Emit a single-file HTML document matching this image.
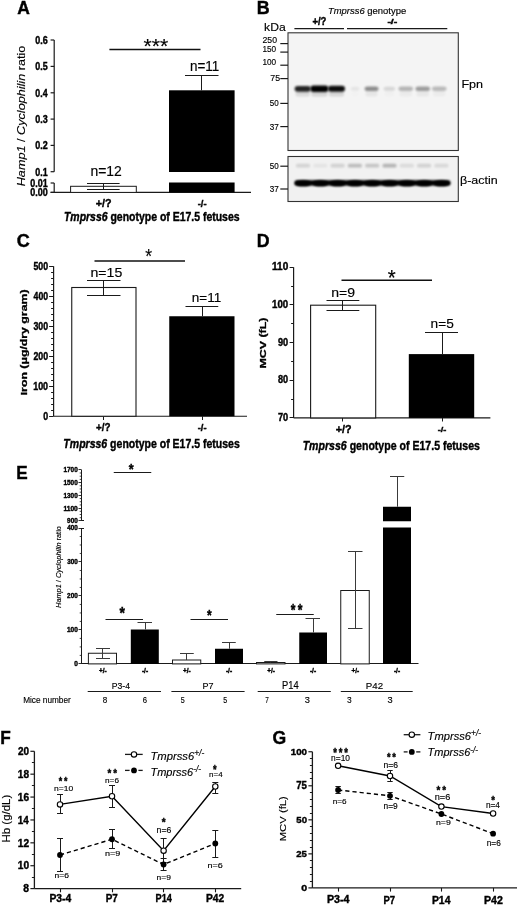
<!DOCTYPE html>
<html><head><meta charset="utf-8"><title>Figure</title>
<style>html,body{margin:0;padding:0;background:#fff;}svg{display:block;}text{font-family:"Liberation Sans",Arial,sans-serif;stroke:#000;}.b{stroke-width:0.4px;}.r{stroke-width:0.15px;}</style></head>
<body><svg width="520" height="905" viewBox="0 0 520 905">
<rect width="520" height="905" fill="#fff"/>
<text class="b" transform="translate(17.16,13.60) scale(0.9717,1.0000)" font-size="17.97" fill="#000" ><tspan font-weight="bold" font-style="normal">A</tspan></text>
<text class="r" transform="translate(25.26,186.28) rotate(-90) scale(1.0000,0.8788)" font-size="12.66" fill="#000" ><tspan font-weight="normal" font-style="italic">Hamp1</tspan><tspan font-weight="normal" font-style="normal"> / </tspan><tspan font-weight="normal" font-style="italic">Cyclophilin</tspan><tspan font-weight="normal" font-style="normal"> ratio</tspan></text>
<line x1="54.20" y1="40.00" x2="54.20" y2="171.70" stroke="#1a1a1a" stroke-width="1.2" />
<line x1="54.20" y1="183.00" x2="54.20" y2="192.40" stroke="#1a1a1a" stroke-width="1.2" />
<line x1="50.60" y1="40.00" x2="54.20" y2="40.00" stroke="#1a1a1a" stroke-width="1.2" />
<text class="b" transform="translate(35.34,43.80) scale(0.8610,1.0000)" font-size="10.42" fill="#000" ><tspan font-weight="bold" font-style="normal">0.6</tspan></text>
<line x1="50.60" y1="66.40" x2="54.20" y2="66.40" stroke="#1a1a1a" stroke-width="1.2" />
<text class="b" transform="translate(35.34,70.20) scale(0.8545,1.0000)" font-size="10.42" fill="#000" ><tspan font-weight="bold" font-style="normal">0.5</tspan></text>
<line x1="50.60" y1="92.80" x2="54.20" y2="92.80" stroke="#1a1a1a" stroke-width="1.2" />
<text class="b" transform="translate(35.35,96.60) scale(0.8418,1.0000)" font-size="10.42" fill="#000" ><tspan font-weight="bold" font-style="normal">0.4</tspan></text>
<line x1="50.60" y1="119.10" x2="54.20" y2="119.10" stroke="#1a1a1a" stroke-width="1.2" />
<text class="b" transform="translate(35.34,122.90) scale(0.8610,1.0000)" font-size="10.42" fill="#000" ><tspan font-weight="bold" font-style="normal">0.3</tspan></text>
<line x1="50.60" y1="145.40" x2="54.20" y2="145.40" stroke="#1a1a1a" stroke-width="1.2" />
<text class="b" transform="translate(35.34,149.20) scale(0.8642,1.0000)" font-size="10.42" fill="#000" ><tspan font-weight="bold" font-style="normal">0.2</tspan></text>
<line x1="50.60" y1="171.70" x2="54.20" y2="171.70" stroke="#1a1a1a" stroke-width="1.2" />
<text class="b" transform="translate(35.34,175.50) scale(0.8545,1.0000)" font-size="10.42" fill="#000" ><tspan font-weight="bold" font-style="normal">0.1</tspan></text>
<line x1="50.60" y1="183.00" x2="54.20" y2="183.00" stroke="#1a1a1a" stroke-width="1.2" />
<text class="b" transform="translate(30.34,186.80) scale(0.8574,1.0000)" font-size="10.42" fill="#000" ><tspan font-weight="bold" font-style="normal">0.01</tspan></text>
<line x1="50.60" y1="192.40" x2="54.20" y2="192.40" stroke="#1a1a1a" stroke-width="1.2" />
<text class="b" transform="translate(30.34,196.20) scale(0.8643,1.0000)" font-size="10.42" fill="#000" ><tspan font-weight="bold" font-style="normal">0.00</tspan></text>
<line x1="50.60" y1="192.40" x2="251.00" y2="192.40" stroke="#1a1a1a" stroke-width="1.2" />
<rect x="70.60" y="186.30" width="65.70" height="6.10" fill="#fff" stroke="#1a1a1a" stroke-width="1.0" />
<line x1="103.50" y1="183.70" x2="103.50" y2="189.40" stroke="#1a1a1a" stroke-width="1.0" />
<line x1="87.00" y1="183.50" x2="119.60" y2="183.50" stroke="#1a1a1a" stroke-width="1.0" />
<line x1="87.00" y1="189.50" x2="119.60" y2="189.50" stroke="#1a1a1a" stroke-width="1.0" />
<rect x="169.00" y="90.30" width="65.60" height="81.70" fill="#000" stroke="none" stroke-width="1.0" />
<rect x="169.00" y="182.50" width="65.60" height="9.90" fill="#000" stroke="none" stroke-width="1.0" />
<line x1="201.50" y1="75.40" x2="201.50" y2="90.30" stroke="#1a1a1a" stroke-width="1.0" />
<line x1="185.00" y1="75.50" x2="218.50" y2="75.50" stroke="#1a1a1a" stroke-width="1.0" />
<line x1="109.40" y1="49.40" x2="200.50" y2="49.40" stroke="#111" stroke-width="1.5" />
<text class="r" transform="translate(143.58,53.09) scale(1.0277,1.0000)" font-size="20.57" fill="#000" ><tspan font-weight="normal" font-style="normal">***</tspan></text>
<text class="r" transform="translate(90.39,175.80) scale(0.9970,1.0000)" font-size="14.00" fill="#000" ><tspan font-weight="normal" font-style="normal">n=12</tspan></text>
<text class="r" transform="translate(190.02,70.90) scale(0.9576,1.0000)" font-size="14.06" fill="#000" ><tspan font-weight="normal" font-style="normal">n=11</tspan></text>
<text class="b" transform="translate(95.67,207.08) scale(0.9779,1.0000)" font-size="11.01" fill="#000" ><tspan font-weight="bold" font-style="normal">+/?</tspan></text>
<text class="b" transform="translate(197.73,207.12) scale(1.0570,1.0000)" font-size="8.86" fill="#000" ><tspan font-weight="bold" font-style="normal">-/-</tspan></text>
<text class="b" transform="translate(63.97,220.92) scale(0.8518,1.0000)" font-size="12.30" fill="#000" ><tspan font-weight="bold" font-style="italic">Tmprss6</tspan><tspan font-weight="bold" font-style="normal"> genotype of E17.5 fetuses</tspan></text>
<text class="b" transform="translate(256.64,13.60) scale(0.9785,1.0000)" font-size="18.26" fill="#000" ><tspan font-weight="bold" font-style="normal">B</tspan></text>
<text class="r" transform="translate(327.95,14.09) scale(0.9901,1.0000)" font-size="9.56" fill="#000" ><tspan font-weight="normal" font-style="italic">Tmprss6</tspan><tspan font-weight="normal" font-style="normal"> genotype</tspan></text>
<text class="b" transform="translate(312.42,25.10) scale(0.9339,1.0000)" font-size="10.20" fill="#000" ><tspan font-weight="bold" font-style="normal">+/?</tspan></text>
<text class="b" transform="translate(387.38,23.96) scale(1.4907,1.0000)" font-size="6.98" fill="#000" ><tspan font-weight="bold" font-style="normal">-/-</tspan></text>
<line x1="294.40" y1="28.60" x2="344.00" y2="28.60" stroke="#1a1a1a" stroke-width="1.4" />
<line x1="347.00" y1="28.60" x2="447.30" y2="28.60" stroke="#1a1a1a" stroke-width="1.4" />
<text class="r" transform="translate(264.11,31.18) scale(1.0276,1.0000)" font-size="11.84" fill="#000" ><tspan font-weight="normal" font-style="normal">kDa</tspan></text>
<defs><filter id="bl" x="-20%" y="-100%" width="140%" height="300%"><feGaussianBlur stdDeviation="1.1"/></filter><filter id="bl2" x="-20%" y="-100%" width="140%" height="300%"><feGaussianBlur stdDeviation="0.8"/></filter></defs>
<rect x="288.00" y="32.80" width="170.30" height="117.70" fill="#f4f4f4" stroke="#333" stroke-width="1.1" />
<rect x="288.00" y="156.50" width="170.30" height="45.00" fill="#f1f1f1" stroke="#333" stroke-width="1.1" />
<line x1="280.30" y1="43.60" x2="288.00" y2="43.60" stroke="#1a1a1a" stroke-width="1.2" />
<text class="r" transform="translate(262.46,42.91) scale(1.0166,1.0000)" font-size="8.59" fill="#000" ><tspan font-weight="normal" font-style="normal">250</tspan></text>
<line x1="280.30" y1="52.10" x2="288.00" y2="52.10" stroke="#1a1a1a" stroke-width="1.2" />
<text class="r" transform="translate(262.48,51.81) scale(0.8855,1.0000)" font-size="9.30" fill="#000" ><tspan font-weight="normal" font-style="normal">150</tspan></text>
<line x1="280.30" y1="65.20" x2="288.00" y2="65.20" stroke="#1a1a1a" stroke-width="1.2" />
<text class="r" transform="translate(262.48,65.31) scale(0.9426,1.0000)" font-size="8.73" fill="#000" ><tspan font-weight="normal" font-style="normal">100</tspan></text>
<line x1="280.30" y1="78.60" x2="288.00" y2="78.60" stroke="#1a1a1a" stroke-width="1.2" />
<text class="r" transform="translate(270.36,81.01) scale(0.9502,1.0000)" font-size="9.29" fill="#000" ><tspan font-weight="normal" font-style="normal">75</tspan></text>
<line x1="280.30" y1="103.40" x2="288.00" y2="103.40" stroke="#1a1a1a" stroke-width="1.2" />
<text class="r" transform="translate(269.78,106.41) scale(0.8896,1.0000)" font-size="9.01" fill="#000" ><tspan font-weight="normal" font-style="normal">50</tspan></text>
<line x1="280.30" y1="126.60" x2="288.00" y2="126.60" stroke="#1a1a1a" stroke-width="1.2" />
<text class="r" transform="translate(269.77,129.61) scale(0.9027,1.0000)" font-size="9.01" fill="#000" ><tspan font-weight="normal" font-style="normal">37</tspan></text>
<line x1="280.30" y1="166.20" x2="288.00" y2="166.20" stroke="#1a1a1a" stroke-width="1.2" />
<text class="r" transform="translate(269.78,169.31) scale(0.8896,1.0000)" font-size="9.01" fill="#000" ><tspan font-weight="normal" font-style="normal">50</tspan></text>
<line x1="280.30" y1="189.00" x2="288.00" y2="189.00" stroke="#1a1a1a" stroke-width="1.2" />
<text class="r" transform="translate(269.77,192.11) scale(0.9027,1.0000)" font-size="9.01" fill="#000" ><tspan font-weight="normal" font-style="normal">37</tspan></text>
<text class="r" transform="translate(461.39,88.27) scale(1.1314,1.0000)" font-size="11.11" fill="#000" ><tspan font-weight="normal" font-style="normal">Fpn</tspan></text>
<text class="r" transform="translate(460.03,183.52) scale(1.1007,1.0000)" font-size="11.34" fill="#000" ><tspan font-weight="normal" font-style="normal">β-actin</tspan></text>
<rect x="294.6" y="85.9" width="16.2" height="5.8" rx="3" fill="#000" opacity="0.85" filter="url(#bl2)"/>
<rect x="295.6" y="91" width="14.2" height="5.5" rx="2" fill="#000" opacity="0.111" filter="url(#bl)"/>
<rect x="310.4" y="85.5" width="18.0" height="6.6" rx="3" fill="#000" opacity="1.0" filter="url(#bl2)"/>
<rect x="311.4" y="91" width="16.0" height="5.5" rx="2" fill="#000" opacity="0.130" filter="url(#bl)"/>
<rect x="328.0" y="85.8" width="17.0" height="6.0" rx="3" fill="#000" opacity="0.95" filter="url(#bl2)"/>
<rect x="329.0" y="91" width="15.0" height="5.5" rx="2" fill="#000" opacity="0.123" filter="url(#bl)"/>
<rect x="350.8" y="86.8" width="8.6" height="4.0" rx="3" fill="#000" opacity="0.06" filter="url(#bl2)"/>
<rect x="351.8" y="91" width="6.6" height="5.5" rx="2" fill="#000" opacity="0.008" filter="url(#bl)"/>
<rect x="364.6" y="86.5" width="13.9" height="4.6" rx="3" fill="#000" opacity="0.42" filter="url(#bl2)"/>
<rect x="365.6" y="91" width="11.9" height="5.5" rx="2" fill="#000" opacity="0.055" filter="url(#bl)"/>
<rect x="383.6" y="86.8" width="11.4" height="4.0" rx="3" fill="#000" opacity="0.12" filter="url(#bl2)"/>
<rect x="384.6" y="91" width="9.4" height="5.5" rx="2" fill="#000" opacity="0.016" filter="url(#bl)"/>
<rect x="398.5" y="86.6" width="14.5" height="4.4" rx="3" fill="#000" opacity="0.26" filter="url(#bl2)"/>
<rect x="399.5" y="91" width="12.5" height="5.5" rx="2" fill="#000" opacity="0.034" filter="url(#bl)"/>
<rect x="415.5" y="86.5" width="14.5" height="4.6" rx="3" fill="#000" opacity="0.36" filter="url(#bl2)"/>
<rect x="416.5" y="91" width="12.5" height="5.5" rx="2" fill="#000" opacity="0.047" filter="url(#bl)"/>
<rect x="432.0" y="86.6" width="14.5" height="4.4" rx="3" fill="#000" opacity="0.24" filter="url(#bl2)"/>
<rect x="433.0" y="91" width="12.5" height="5.5" rx="2" fill="#000" opacity="0.031" filter="url(#bl)"/>
<rect x="294.5" y="180.2" width="156" height="5.4" rx="2.5" fill="#030303" filter="url(#bl2)"/>
<ellipse cx="303.1" cy="183.4" rx="8.2" ry="2.9" fill="#000" filter="url(#bl2)"/>
<ellipse cx="320.4" cy="183.4" rx="8.2" ry="2.9" fill="#000" filter="url(#bl2)"/>
<ellipse cx="337.7" cy="183.4" rx="8.2" ry="2.9" fill="#000" filter="url(#bl2)"/>
<ellipse cx="355.0" cy="183.4" rx="8.2" ry="2.9" fill="#000" filter="url(#bl2)"/>
<ellipse cx="372.3" cy="183.4" rx="8.2" ry="2.9" fill="#000" filter="url(#bl2)"/>
<ellipse cx="389.6" cy="183.4" rx="8.2" ry="2.9" fill="#000" filter="url(#bl2)"/>
<ellipse cx="406.9" cy="183.4" rx="8.2" ry="2.9" fill="#000" filter="url(#bl2)"/>
<ellipse cx="424.2" cy="183.4" rx="8.2" ry="2.9" fill="#000" filter="url(#bl2)"/>
<ellipse cx="441.5" cy="183.4" rx="8.2" ry="2.9" fill="#000" filter="url(#bl2)"/>
<rect x="296.0" y="163.8" width="14" height="3.6" rx="1.5" fill="#000" opacity="0.12" filter="url(#bl)"/>
<rect x="313.3" y="163.8" width="14" height="3.6" rx="1.5" fill="#000" opacity="0.05" filter="url(#bl)"/>
<rect x="330.6" y="163.8" width="14" height="3.6" rx="1.5" fill="#000" opacity="0.13" filter="url(#bl)"/>
<rect x="347.9" y="163.8" width="14" height="3.6" rx="1.5" fill="#000" opacity="0.22" filter="url(#bl)"/>
<rect x="365.2" y="163.8" width="14" height="3.6" rx="1.5" fill="#000" opacity="0.18" filter="url(#bl)"/>
<rect x="382.5" y="163.8" width="14" height="3.6" rx="1.5" fill="#000" opacity="0.25" filter="url(#bl)"/>
<rect x="399.8" y="163.8" width="14" height="3.6" rx="1.5" fill="#000" opacity="0.09" filter="url(#bl)"/>
<rect x="417.1" y="163.8" width="14" height="3.6" rx="1.5" fill="#000" opacity="0.13" filter="url(#bl)"/>
<rect x="434.4" y="163.8" width="14" height="3.6" rx="1.5" fill="#000" opacity="0.1" filter="url(#bl)"/>
<text class="b" transform="translate(16.68,247.01) scale(0.9690,1.0000)" font-size="18.59" fill="#000" ><tspan font-weight="bold" font-style="normal">C</tspan></text>
<text class="b" transform="translate(26.73,395.30) rotate(-90) scale(1.0000,0.8003)" font-size="12.29" fill="#000" ><tspan font-weight="bold" font-style="normal">Iron (μg/dry gram)</tspan></text>
<line x1="53.60" y1="266.25" x2="53.60" y2="416.25" stroke="#1a1a1a" stroke-width="1.2" />
<line x1="49.10" y1="416.50" x2="53.60" y2="416.50" stroke="#1a1a1a" stroke-width="1.0" />
<text class="b" transform="translate(43.15,419.75) scale(0.8719,1.0000)" font-size="10.14" fill="#000" ><tspan font-weight="bold" font-style="normal">0</tspan></text>
<line x1="51.10" y1="410.50" x2="53.60" y2="410.50" stroke="#1a1a1a" stroke-width="1.0" />
<line x1="51.10" y1="404.50" x2="53.60" y2="404.50" stroke="#1a1a1a" stroke-width="1.0" />
<line x1="51.10" y1="398.50" x2="53.60" y2="398.50" stroke="#1a1a1a" stroke-width="1.0" />
<line x1="51.10" y1="392.50" x2="53.60" y2="392.50" stroke="#1a1a1a" stroke-width="1.0" />
<line x1="49.10" y1="386.50" x2="53.60" y2="386.50" stroke="#1a1a1a" stroke-width="1.0" />
<text class="b" transform="translate(33.16,389.75) scale(0.8821,1.0000)" font-size="10.14" fill="#000" ><tspan font-weight="bold" font-style="normal">100</tspan></text>
<line x1="51.10" y1="380.50" x2="53.60" y2="380.50" stroke="#1a1a1a" stroke-width="1.0" />
<line x1="51.10" y1="374.50" x2="53.60" y2="374.50" stroke="#1a1a1a" stroke-width="1.0" />
<line x1="51.10" y1="368.50" x2="53.60" y2="368.50" stroke="#1a1a1a" stroke-width="1.0" />
<line x1="51.10" y1="362.50" x2="53.60" y2="362.50" stroke="#1a1a1a" stroke-width="1.0" />
<line x1="49.10" y1="356.50" x2="53.60" y2="356.50" stroke="#1a1a1a" stroke-width="1.0" />
<text class="b" transform="translate(33.39,359.75) scale(0.8683,1.0000)" font-size="10.14" fill="#000" ><tspan font-weight="bold" font-style="normal">200</tspan></text>
<line x1="51.10" y1="350.50" x2="53.60" y2="350.50" stroke="#1a1a1a" stroke-width="1.0" />
<line x1="51.10" y1="344.50" x2="53.60" y2="344.50" stroke="#1a1a1a" stroke-width="1.0" />
<line x1="51.10" y1="338.50" x2="53.60" y2="338.50" stroke="#1a1a1a" stroke-width="1.0" />
<line x1="51.10" y1="332.50" x2="53.60" y2="332.50" stroke="#1a1a1a" stroke-width="1.0" />
<line x1="49.10" y1="326.50" x2="53.60" y2="326.50" stroke="#1a1a1a" stroke-width="1.0" />
<text class="b" transform="translate(33.48,329.75) scale(0.8628,1.0000)" font-size="10.14" fill="#000" ><tspan font-weight="bold" font-style="normal">300</tspan></text>
<line x1="51.10" y1="320.50" x2="53.60" y2="320.50" stroke="#1a1a1a" stroke-width="1.0" />
<line x1="51.10" y1="314.50" x2="53.60" y2="314.50" stroke="#1a1a1a" stroke-width="1.0" />
<line x1="51.10" y1="308.50" x2="53.60" y2="308.50" stroke="#1a1a1a" stroke-width="1.0" />
<line x1="51.10" y1="302.50" x2="53.60" y2="302.50" stroke="#1a1a1a" stroke-width="1.0" />
<line x1="49.10" y1="296.50" x2="53.60" y2="296.50" stroke="#1a1a1a" stroke-width="1.0" />
<text class="b" transform="translate(33.57,299.75) scale(0.8575,1.0000)" font-size="10.14" fill="#000" ><tspan font-weight="bold" font-style="normal">400</tspan></text>
<line x1="51.10" y1="290.50" x2="53.60" y2="290.50" stroke="#1a1a1a" stroke-width="1.0" />
<line x1="51.10" y1="284.50" x2="53.60" y2="284.50" stroke="#1a1a1a" stroke-width="1.0" />
<line x1="51.10" y1="278.50" x2="53.60" y2="278.50" stroke="#1a1a1a" stroke-width="1.0" />
<line x1="51.10" y1="272.50" x2="53.60" y2="272.50" stroke="#1a1a1a" stroke-width="1.0" />
<line x1="49.10" y1="266.50" x2="53.60" y2="266.50" stroke="#1a1a1a" stroke-width="1.0" />
<text class="b" transform="translate(33.44,269.75) scale(0.8656,1.0000)" font-size="10.14" fill="#000" ><tspan font-weight="bold" font-style="normal">500</tspan></text>
<line x1="53.60" y1="416.25" x2="247.00" y2="416.25" stroke="#1a1a1a" stroke-width="1.2" />
<line x1="103.50" y1="416.25" x2="103.50" y2="420.00" stroke="#1a1a1a" stroke-width="1.0" />
<line x1="202.50" y1="416.25" x2="202.50" y2="420.00" stroke="#1a1a1a" stroke-width="1.0" />
<rect x="71.75" y="287.50" width="64.25" height="128.75" fill="#fff" stroke="#1a1a1a" stroke-width="1.1" />
<line x1="103.50" y1="280.50" x2="103.50" y2="295.00" stroke="#1a1a1a" stroke-width="1.0" />
<line x1="87.00" y1="280.50" x2="120.50" y2="280.50" stroke="#1a1a1a" stroke-width="1.0" />
<line x1="87.00" y1="295.50" x2="120.50" y2="295.50" stroke="#1a1a1a" stroke-width="1.0" />
<rect x="169.25" y="316.25" width="65.25" height="100.00" fill="#000" stroke="none" stroke-width="1.0" />
<line x1="202.50" y1="306.75" x2="202.50" y2="316.25" stroke="#1a1a1a" stroke-width="1.0" />
<line x1="185.50" y1="306.50" x2="218.25" y2="306.50" stroke="#1a1a1a" stroke-width="1.0" />
<line x1="94.50" y1="261.00" x2="185.00" y2="261.00" stroke="#111" stroke-width="1.5" />
<text class="r" transform="translate(145.34,263.20) scale(0.8627,1.0000)" font-size="20.29" fill="#000" ><tspan font-weight="normal" font-style="normal">*</tspan></text>
<text class="r" transform="translate(90.43,276.93) scale(1.1498,1.0000)" font-size="12.29" fill="#000" ><tspan font-weight="normal" font-style="normal">n=15</tspan></text>
<text class="r" transform="translate(191.82,302.30) scale(1.0572,1.0000)" font-size="12.83" fill="#000" ><tspan font-weight="normal" font-style="normal">n=11</tspan></text>
<text class="b" transform="translate(95.96,431.33) scale(0.9064,1.0000)" font-size="10.87" fill="#000" ><tspan font-weight="bold" font-style="normal">+/?</tspan></text>
<text class="b" transform="translate(197.73,430.88) scale(1.0918,1.0000)" font-size="8.52" fill="#000" ><tspan font-weight="bold" font-style="normal">-/-</tspan></text>
<text class="b" transform="translate(63.36,448.08) scale(0.8133,1.0000)" font-size="12.94" fill="#000" ><tspan font-weight="bold" font-style="italic">Tmprss6</tspan><tspan font-weight="bold" font-style="normal"> genotype of E17.5 fetuses</tspan></text>
<text class="b" transform="translate(256.65,246.60) scale(0.9862,1.0000)" font-size="17.97" fill="#000" ><tspan font-weight="bold" font-style="normal">D</tspan></text>
<text class="b" transform="translate(266.00,368.51) rotate(-90) scale(1.0000,0.7682)" font-size="12.39" fill="#000" ><tspan font-weight="bold" font-style="normal">MCV (fL)</tspan></text>
<line x1="293.60" y1="267.30" x2="293.60" y2="417.90" stroke="#1a1a1a" stroke-width="1.2" />
<line x1="289.60" y1="417.50" x2="293.60" y2="417.50" stroke="#1a1a1a" stroke-width="1.0" />
<text class="b" transform="translate(277.93,421.00) scale(0.9223,1.0000)" font-size="10.00" fill="#000" ><tspan font-weight="bold" font-style="normal">70</tspan></text>
<line x1="291.10" y1="399.50" x2="293.60" y2="399.50" stroke="#1a1a1a" stroke-width="1.0" />
<line x1="289.60" y1="380.50" x2="293.60" y2="380.50" stroke="#1a1a1a" stroke-width="1.0" />
<text class="b" transform="translate(278.03,383.35) scale(0.9135,1.0000)" font-size="10.00" fill="#000" ><tspan font-weight="bold" font-style="normal">80</tspan></text>
<line x1="291.10" y1="361.50" x2="293.60" y2="361.50" stroke="#1a1a1a" stroke-width="1.0" />
<line x1="289.60" y1="342.50" x2="293.60" y2="342.50" stroke="#1a1a1a" stroke-width="1.0" />
<text class="b" transform="translate(277.98,345.70) scale(0.9179,1.0000)" font-size="10.00" fill="#000" ><tspan font-weight="bold" font-style="normal">90</tspan></text>
<line x1="291.10" y1="323.50" x2="293.60" y2="323.50" stroke="#1a1a1a" stroke-width="1.0" />
<line x1="289.60" y1="304.50" x2="293.60" y2="304.50" stroke="#1a1a1a" stroke-width="1.0" />
<text class="b" transform="translate(272.12,308.05) scale(0.9649,1.0000)" font-size="10.00" fill="#000" ><tspan font-weight="bold" font-style="normal">100</tspan></text>
<line x1="291.10" y1="286.50" x2="293.60" y2="286.50" stroke="#1a1a1a" stroke-width="1.0" />
<line x1="289.60" y1="267.50" x2="293.60" y2="267.50" stroke="#1a1a1a" stroke-width="1.0" />
<text class="b" transform="translate(272.10,270.40) scale(1.0000,1.0000)" font-size="10.00" fill="#000" ><tspan font-weight="bold" font-style="normal">110</tspan></text>
<line x1="293.60" y1="417.90" x2="490.40" y2="417.90" stroke="#1a1a1a" stroke-width="1.2" />
<line x1="342.50" y1="417.90" x2="342.50" y2="421.50" stroke="#1a1a1a" stroke-width="1.0" />
<line x1="442.50" y1="417.90" x2="442.50" y2="421.50" stroke="#1a1a1a" stroke-width="1.0" />
<rect x="310.60" y="305.20" width="65.10" height="112.70" fill="#fff" stroke="#1a1a1a" stroke-width="1.1" />
<line x1="342.50" y1="300.40" x2="342.50" y2="310.60" stroke="#1a1a1a" stroke-width="1.0" />
<line x1="326.50" y1="300.50" x2="359.30" y2="300.50" stroke="#1a1a1a" stroke-width="1.0" />
<line x1="326.50" y1="310.50" x2="359.30" y2="310.50" stroke="#1a1a1a" stroke-width="1.0" />
<rect x="408.80" y="354.10" width="65.40" height="63.80" fill="#000" stroke="none" stroke-width="1.0" />
<line x1="442.50" y1="332.60" x2="442.50" y2="354.10" stroke="#1a1a1a" stroke-width="1.0" />
<line x1="425.00" y1="332.50" x2="458.00" y2="332.50" stroke="#1a1a1a" stroke-width="1.0" />
<line x1="341.50" y1="280.20" x2="432.00" y2="280.20" stroke="#111" stroke-width="1.5" />
<text class="r" transform="translate(387.79,285.47) scale(0.9107,1.0000)" font-size="22.57" fill="#000" ><tspan font-weight="normal" font-style="normal">*</tspan></text>
<text class="r" transform="translate(331.19,297.37) scale(1.1099,1.0000)" font-size="12.68" fill="#000" ><tspan font-weight="normal" font-style="normal">n=9</tspan></text>
<text class="r" transform="translate(430.61,328.26) scale(1.0103,1.0000)" font-size="13.57" fill="#000" ><tspan font-weight="normal" font-style="normal">n=5</tspan></text>
<text class="b" transform="translate(335.67,432.78) scale(0.9900,1.0000)" font-size="10.87" fill="#000" ><tspan font-weight="bold" font-style="normal">+/?</tspan></text>
<text class="b" transform="translate(437.63,431.54) scale(1.1340,1.0000)" font-size="8.05" fill="#000" ><tspan font-weight="bold" font-style="normal">-/-</tspan></text>
<text class="b" transform="translate(302.66,449.60) scale(0.8233,1.0000)" font-size="12.83" fill="#000" ><tspan font-weight="bold" font-style="italic">Tmprss6</tspan><tspan font-weight="bold" font-style="normal"> genotype of E17.5 fetuses</tspan></text>
<text class="b" transform="translate(16.18,478.60) scale(0.9402,1.0000)" font-size="18.26" fill="#000" ><tspan font-weight="bold" font-style="normal">E</tspan></text>
<text class="r" transform="translate(60.79,607.92) rotate(-90) scale(1.0000,0.9131)" font-size="7.38" fill="#000" ><tspan font-weight="normal" font-style="italic">Hamp1</tspan><tspan font-weight="normal" font-style="normal"> / </tspan><tspan font-weight="normal" font-style="italic">Cyclophilin</tspan><tspan font-weight="normal" font-style="normal"> ratio</tspan></text>
<line x1="81.50" y1="469.80" x2="81.50" y2="520.90" stroke="#1a1a1a" stroke-width="1.0" />
<line x1="78.50" y1="520.50" x2="81.50" y2="520.50" stroke="#1a1a1a" stroke-width="0.9" />
<text class="b" transform="translate(67.08,523.33) scale(0.9109,1.0000)" font-size="7.04" fill="#000" ><tspan font-weight="bold" font-style="normal">900</tspan></text>
<line x1="79.70" y1="517.71" x2="81.50" y2="517.71" stroke="#1a1a1a" stroke-width="0.8" />
<line x1="79.70" y1="514.51" x2="81.50" y2="514.51" stroke="#1a1a1a" stroke-width="0.8" />
<line x1="79.70" y1="511.32" x2="81.50" y2="511.32" stroke="#1a1a1a" stroke-width="0.8" />
<line x1="78.50" y1="508.50" x2="81.50" y2="508.50" stroke="#1a1a1a" stroke-width="0.9" />
<text class="b" transform="translate(63.40,510.55) scale(0.9398,1.0000)" font-size="7.04" fill="#000" ><tspan font-weight="bold" font-style="normal">1100</tspan></text>
<line x1="79.70" y1="504.93" x2="81.50" y2="504.93" stroke="#1a1a1a" stroke-width="0.8" />
<line x1="79.70" y1="501.74" x2="81.50" y2="501.74" stroke="#1a1a1a" stroke-width="0.8" />
<line x1="79.70" y1="498.54" x2="81.50" y2="498.54" stroke="#1a1a1a" stroke-width="0.8" />
<line x1="78.50" y1="495.50" x2="81.50" y2="495.50" stroke="#1a1a1a" stroke-width="0.9" />
<text class="b" transform="translate(63.41,497.78) scale(0.9155,1.0000)" font-size="7.04" fill="#000" ><tspan font-weight="bold" font-style="normal">1300</tspan></text>
<line x1="79.70" y1="492.16" x2="81.50" y2="492.16" stroke="#1a1a1a" stroke-width="0.8" />
<line x1="79.70" y1="488.96" x2="81.50" y2="488.96" stroke="#1a1a1a" stroke-width="0.8" />
<line x1="79.70" y1="485.77" x2="81.50" y2="485.77" stroke="#1a1a1a" stroke-width="0.8" />
<line x1="78.50" y1="482.50" x2="81.50" y2="482.50" stroke="#1a1a1a" stroke-width="0.9" />
<text class="b" transform="translate(63.41,485.00) scale(0.9155,1.0000)" font-size="7.04" fill="#000" ><tspan font-weight="bold" font-style="normal">1500</tspan></text>
<line x1="79.70" y1="479.38" x2="81.50" y2="479.38" stroke="#1a1a1a" stroke-width="0.8" />
<line x1="79.70" y1="476.19" x2="81.50" y2="476.19" stroke="#1a1a1a" stroke-width="0.8" />
<line x1="79.70" y1="472.99" x2="81.50" y2="472.99" stroke="#1a1a1a" stroke-width="0.8" />
<line x1="78.50" y1="469.50" x2="81.50" y2="469.50" stroke="#1a1a1a" stroke-width="0.9" />
<text class="b" transform="translate(63.41,472.23) scale(0.9155,1.0000)" font-size="7.04" fill="#000" ><tspan font-weight="bold" font-style="normal">1700</tspan></text>
<line x1="81.50" y1="520.50" x2="84.00" y2="520.50" stroke="#1a1a1a" stroke-width="1.0" />
<line x1="81.50" y1="528.00" x2="81.50" y2="663.90" stroke="#1a1a1a" stroke-width="1.0" />
<line x1="81.50" y1="528.50" x2="84.00" y2="528.50" stroke="#1a1a1a" stroke-width="1.0" />
<line x1="78.50" y1="663.50" x2="81.50" y2="663.50" stroke="#1a1a1a" stroke-width="0.9" />
<text class="b" transform="translate(74.14,666.33) scale(0.9267,1.0000)" font-size="7.04" fill="#000" ><tspan font-weight="bold" font-style="normal">0</tspan></text>
<line x1="79.70" y1="655.41" x2="81.50" y2="655.41" stroke="#1a1a1a" stroke-width="0.8" />
<line x1="79.70" y1="646.91" x2="81.50" y2="646.91" stroke="#1a1a1a" stroke-width="0.8" />
<line x1="79.70" y1="638.42" x2="81.50" y2="638.42" stroke="#1a1a1a" stroke-width="0.8" />
<line x1="78.50" y1="629.50" x2="81.50" y2="629.50" stroke="#1a1a1a" stroke-width="0.9" />
<text class="b" transform="translate(66.91,632.35) scale(0.9255,1.0000)" font-size="7.04" fill="#000" ><tspan font-weight="bold" font-style="normal">100</tspan></text>
<line x1="79.70" y1="621.43" x2="81.50" y2="621.43" stroke="#1a1a1a" stroke-width="0.8" />
<line x1="79.70" y1="612.94" x2="81.50" y2="612.94" stroke="#1a1a1a" stroke-width="0.8" />
<line x1="79.70" y1="604.44" x2="81.50" y2="604.44" stroke="#1a1a1a" stroke-width="0.8" />
<line x1="78.50" y1="595.50" x2="81.50" y2="595.50" stroke="#1a1a1a" stroke-width="0.9" />
<text class="b" transform="translate(67.08,598.38) scale(0.9109,1.0000)" font-size="7.04" fill="#000" ><tspan font-weight="bold" font-style="normal">200</tspan></text>
<line x1="79.70" y1="587.46" x2="81.50" y2="587.46" stroke="#1a1a1a" stroke-width="0.8" />
<line x1="79.70" y1="578.96" x2="81.50" y2="578.96" stroke="#1a1a1a" stroke-width="0.8" />
<line x1="79.70" y1="570.47" x2="81.50" y2="570.47" stroke="#1a1a1a" stroke-width="0.8" />
<line x1="78.50" y1="561.50" x2="81.50" y2="561.50" stroke="#1a1a1a" stroke-width="0.9" />
<text class="b" transform="translate(67.14,564.40) scale(0.9053,1.0000)" font-size="7.04" fill="#000" ><tspan font-weight="bold" font-style="normal">300</tspan></text>
<line x1="79.70" y1="553.48" x2="81.50" y2="553.48" stroke="#1a1a1a" stroke-width="0.8" />
<line x1="79.70" y1="544.99" x2="81.50" y2="544.99" stroke="#1a1a1a" stroke-width="0.8" />
<line x1="79.70" y1="536.49" x2="81.50" y2="536.49" stroke="#1a1a1a" stroke-width="0.8" />
<line x1="78.50" y1="528.50" x2="81.50" y2="528.50" stroke="#1a1a1a" stroke-width="0.9" />
<text class="b" transform="translate(67.20,530.43) scale(0.8996,1.0000)" font-size="7.04" fill="#000" ><tspan font-weight="bold" font-style="normal">400</tspan></text>
<line x1="81.50" y1="663.50" x2="418.50" y2="663.50" stroke="#1a1a1a" stroke-width="1.1" />
<rect x="88.40" y="653.25" width="28.10" height="10.65" fill="#fff" stroke="#1a1a1a" stroke-width="1.0" />
<rect x="130.80" y="629.50" width="28.00" height="34.40" fill="#000" stroke="none" stroke-width="1.0" />
<rect x="172.50" y="660.00" width="28.25" height="3.90" fill="#fff" stroke="#1a1a1a" stroke-width="1.0" />
<rect x="215.00" y="648.75" width="28.00" height="15.15" fill="#000" stroke="none" stroke-width="1.0" />
<rect x="256.50" y="662.50" width="28.50" height="1.40" fill="#fff" stroke="#1a1a1a" stroke-width="1.0" />
<rect x="299.25" y="632.50" width="27.75" height="31.40" fill="#000" stroke="none" stroke-width="1.0" />
<rect x="340.75" y="590.50" width="28.50" height="73.40" fill="#fff" stroke="#1a1a1a" stroke-width="1.0" />
<rect x="383.00" y="506.75" width="28.00" height="14.50" fill="#000" stroke="none" stroke-width="1.0" />
<rect x="383.00" y="527.50" width="28.00" height="136.40" fill="#000" stroke="none" stroke-width="1.0" />
<line x1="102.50" y1="648.25" x2="102.50" y2="658.20" stroke="#3a3a3a" stroke-width="1.0" />
<line x1="96.00" y1="648.50" x2="110.00" y2="648.50" stroke="#3a3a3a" stroke-width="1.0" />
<line x1="96.00" y1="658.50" x2="110.00" y2="658.50" stroke="#3a3a3a" stroke-width="1.0" />
<line x1="145.50" y1="622.50" x2="145.50" y2="629.50" stroke="#3a3a3a" stroke-width="1.0" />
<line x1="137.50" y1="622.50" x2="152.00" y2="622.50" stroke="#3a3a3a" stroke-width="1.0" />
<line x1="186.50" y1="653.75" x2="186.50" y2="660.00" stroke="#3a3a3a" stroke-width="1.0" />
<line x1="180.00" y1="653.50" x2="193.75" y2="653.50" stroke="#3a3a3a" stroke-width="1.0" />
<line x1="229.50" y1="642.50" x2="229.50" y2="648.75" stroke="#3a3a3a" stroke-width="1.0" />
<line x1="222.00" y1="642.50" x2="235.75" y2="642.50" stroke="#3a3a3a" stroke-width="1.0" />
<line x1="270.50" y1="661.00" x2="270.50" y2="662.50" stroke="#3a3a3a" stroke-width="1.0" />
<line x1="264.25" y1="661.50" x2="277.50" y2="661.50" stroke="#3a3a3a" stroke-width="1.0" />
<line x1="313.50" y1="618.75" x2="313.50" y2="632.50" stroke="#3a3a3a" stroke-width="1.0" />
<line x1="305.50" y1="618.50" x2="320.00" y2="618.50" stroke="#3a3a3a" stroke-width="1.0" />
<line x1="355.50" y1="551.75" x2="355.50" y2="628.25" stroke="#3a3a3a" stroke-width="1.0" />
<line x1="348.00" y1="551.50" x2="362.50" y2="551.50" stroke="#3a3a3a" stroke-width="1.0" />
<line x1="348.00" y1="628.50" x2="362.50" y2="628.50" stroke="#3a3a3a" stroke-width="1.0" />
<line x1="397.50" y1="476.25" x2="397.50" y2="506.75" stroke="#3a3a3a" stroke-width="1.0" />
<line x1="390.00" y1="476.50" x2="404.25" y2="476.50" stroke="#3a3a3a" stroke-width="1.0" />
<line x1="113.75" y1="472.50" x2="151.25" y2="472.50" stroke="#1a1a1a" stroke-width="1.1" />
<text class="b" transform="translate(128.79,473.89) scale(0.8346,1.0000)" font-size="15.14" fill="#000" ><tspan font-weight="bold" font-style="normal">*</tspan></text>
<line x1="105.50" y1="619.50" x2="143.00" y2="619.50" stroke="#1a1a1a" stroke-width="1.1" />
<text class="b" transform="translate(119.53,619.04) scale(0.8127,1.0000)" font-size="17.16" fill="#000" ><tspan font-weight="bold" font-style="normal">*</tspan></text>
<line x1="190.50" y1="619.50" x2="228.00" y2="619.50" stroke="#1a1a1a" stroke-width="1.1" />
<text class="b" transform="translate(207.04,619.64) scale(0.7911,1.0000)" font-size="15.14" fill="#000" ><tspan font-weight="bold" font-style="normal">*</tspan></text>
<line x1="276.25" y1="614.50" x2="313.75" y2="614.50" stroke="#1a1a1a" stroke-width="1.1" />
<text class="b" transform="translate(290.79,616.08) scale(0.7336,1.0000)" font-size="16.49" fill="#000" ><tspan font-weight="bold" font-style="normal">*</tspan></text>
<text class="b" transform="translate(297.74,616.08) scale(0.7336,1.0000)" font-size="16.49" fill="#000" ><tspan font-weight="bold" font-style="normal">*</tspan></text>
<text class="b" transform="translate(99.00,672.77) scale(0.9883,1.0000)" font-size="6.44" fill="#000" ><tspan font-weight="bold" font-style="normal">+/-</tspan></text>
<text class="b" transform="translate(141.94,672.77) scale(1.0048,1.0000)" font-size="6.44" fill="#000" ><tspan font-weight="bold" font-style="normal">-/-</tspan></text>
<text class="b" transform="translate(182.95,672.77) scale(0.9883,1.0000)" font-size="6.44" fill="#000" ><tspan font-weight="bold" font-style="normal">+/-</tspan></text>
<text class="b" transform="translate(225.94,672.77) scale(1.0048,1.0000)" font-size="6.44" fill="#000" ><tspan font-weight="bold" font-style="normal">-/-</tspan></text>
<text class="b" transform="translate(267.20,672.77) scale(0.9883,1.0000)" font-size="6.44" fill="#000" ><tspan font-weight="bold" font-style="normal">+/-</tspan></text>
<text class="b" transform="translate(309.94,672.77) scale(1.0048,1.0000)" font-size="6.44" fill="#000" ><tspan font-weight="bold" font-style="normal">-/-</tspan></text>
<text class="b" transform="translate(351.45,672.77) scale(0.9883,1.0000)" font-size="6.44" fill="#000" ><tspan font-weight="bold" font-style="normal">+/-</tspan></text>
<text class="b" transform="translate(393.94,672.77) scale(1.0048,1.0000)" font-size="6.44" fill="#000" ><tspan font-weight="bold" font-style="normal">-/-</tspan></text>
<text class="r" transform="translate(111.71,688.70) scale(0.9032,1.0000)" font-size="9.58" fill="#000" ><tspan font-weight="normal" font-style="normal">P3-4</tspan></text>
<text class="r" transform="translate(202.38,688.80) scale(0.9123,1.0000)" font-size="9.86" fill="#000" ><tspan font-weight="normal" font-style="normal">P7</tspan></text>
<text class="r" transform="translate(282.05,688.90) scale(0.9341,1.0000)" font-size="10.00" fill="#000" ><tspan font-weight="normal" font-style="normal">P14</tspan></text>
<text class="r" transform="translate(365.82,688.90) scale(0.9838,1.0000)" font-size="9.86" fill="#000" ><tspan font-weight="normal" font-style="normal">P42</tspan></text>
<line x1="87.70" y1="691.50" x2="161.00" y2="691.50" stroke="#1a1a1a" stroke-width="1.0" />
<line x1="171.40" y1="691.50" x2="244.60" y2="691.50" stroke="#1a1a1a" stroke-width="1.0" />
<line x1="257.70" y1="691.50" x2="330.80" y2="691.50" stroke="#1a1a1a" stroke-width="1.0" />
<line x1="340.80" y1="691.50" x2="412.70" y2="691.50" stroke="#1a1a1a" stroke-width="1.0" />
<text class="r" transform="translate(23.19,703.21) scale(0.8841,1.0000)" font-size="9.32" fill="#000" ><tspan font-weight="normal" font-style="normal">Mice number</tspan></text>
<text class="r" transform="translate(102.74,703.21) scale(0.8698,1.0000)" font-size="9.30" fill="#000" ><tspan font-weight="normal" font-style="normal">8</tspan></text>
<text class="r" transform="translate(142.71,703.21) scale(0.8328,1.0000)" font-size="9.30" fill="#000" ><tspan font-weight="normal" font-style="normal">6</tspan></text>
<text class="r" transform="translate(180.81,703.21) scale(0.7592,1.0000)" font-size="9.43" fill="#000" ><tspan font-weight="normal" font-style="normal">5</tspan></text>
<text class="r" transform="translate(223.21,703.21) scale(0.7592,1.0000)" font-size="9.43" fill="#000" ><tspan font-weight="normal" font-style="normal">5</tspan></text>
<text class="r" transform="translate(265.18,703.30) scale(0.6663,1.0000)" font-size="9.57" fill="#000" ><tspan font-weight="normal" font-style="normal">7</tspan></text>
<text class="r" transform="translate(304.73,703.21) scale(0.9965,1.0000)" font-size="9.30" fill="#000" ><tspan font-weight="normal" font-style="normal">3</tspan></text>
<text class="r" transform="translate(347.06,703.21) scale(0.9059,1.0000)" font-size="9.30" fill="#000" ><tspan font-weight="normal" font-style="normal">3</tspan></text>
<text class="r" transform="translate(387.43,703.21) scale(0.9965,1.0000)" font-size="9.30" fill="#000" ><tspan font-weight="normal" font-style="normal">3</tspan></text>
<text class="b" transform="translate(0.28,744.30) scale(0.9680,1.0000)" font-size="17.83" fill="#000" ><tspan font-weight="bold" font-style="normal">F</tspan></text>
<text class="r" transform="translate(10.30,842.52) rotate(-90) scale(1.0000,0.9131)" font-size="11.48" fill="#000" ><tspan font-weight="normal" font-style="normal">Hb (g/dL)</tspan></text>
<line x1="34.40" y1="751.30" x2="34.40" y2="888.60" stroke="#1a1a1a" stroke-width="1.3" />
<line x1="30.40" y1="888.60" x2="34.40" y2="888.60" stroke="#1a1a1a" stroke-width="1.2" />
<text class="b" transform="translate(23.29,892.20) scale(1.0021,1.0000)" font-size="10.28" fill="#000" ><tspan font-weight="bold" font-style="normal">8</tspan></text>
<line x1="31.90" y1="877.50" x2="34.40" y2="877.50" stroke="#1a1a1a" stroke-width="1.0" />
<line x1="30.40" y1="865.72" x2="34.40" y2="865.72" stroke="#1a1a1a" stroke-width="1.2" />
<text class="b" transform="translate(17.79,869.31) scale(0.9919,1.0000)" font-size="10.28" fill="#000" ><tspan font-weight="bold" font-style="normal">10</tspan></text>
<line x1="31.90" y1="854.50" x2="34.40" y2="854.50" stroke="#1a1a1a" stroke-width="1.0" />
<line x1="30.40" y1="842.83" x2="34.40" y2="842.83" stroke="#1a1a1a" stroke-width="1.2" />
<text class="b" transform="translate(17.79,846.53) scale(0.9779,1.0000)" font-size="10.43" fill="#000" ><tspan font-weight="bold" font-style="normal">12</tspan></text>
<line x1="31.90" y1="831.50" x2="34.40" y2="831.50" stroke="#1a1a1a" stroke-width="1.0" />
<line x1="30.40" y1="819.95" x2="34.40" y2="819.95" stroke="#1a1a1a" stroke-width="1.2" />
<text class="b" transform="translate(17.81,823.65) scale(0.9316,1.0000)" font-size="10.58" fill="#000" ><tspan font-weight="bold" font-style="normal">14</tspan></text>
<line x1="31.90" y1="808.50" x2="34.40" y2="808.50" stroke="#1a1a1a" stroke-width="1.0" />
<line x1="30.40" y1="797.07" x2="34.40" y2="797.07" stroke="#1a1a1a" stroke-width="1.2" />
<text class="b" transform="translate(17.79,800.66) scale(0.9870,1.0000)" font-size="10.28" fill="#000" ><tspan font-weight="bold" font-style="normal">16</tspan></text>
<line x1="31.90" y1="785.50" x2="34.40" y2="785.50" stroke="#1a1a1a" stroke-width="1.0" />
<line x1="30.40" y1="774.18" x2="34.40" y2="774.18" stroke="#1a1a1a" stroke-width="1.2" />
<text class="b" transform="translate(17.79,777.78) scale(0.9821,1.0000)" font-size="10.28" fill="#000" ><tspan font-weight="bold" font-style="normal">18</tspan></text>
<line x1="31.90" y1="762.50" x2="34.40" y2="762.50" stroke="#1a1a1a" stroke-width="1.0" />
<line x1="30.40" y1="751.30" x2="34.40" y2="751.30" stroke="#1a1a1a" stroke-width="1.2" />
<text class="b" transform="translate(18.05,754.90) scale(0.9679,1.0000)" font-size="10.28" fill="#000" ><tspan font-weight="bold" font-style="normal">20</tspan></text>
<line x1="34.40" y1="888.60" x2="241.20" y2="888.60" stroke="#1a1a1a" stroke-width="1.3" />
<line x1="60.50" y1="888.60" x2="60.50" y2="892.30" stroke="#1a1a1a" stroke-width="1.1" />
<line x1="112.50" y1="888.60" x2="112.50" y2="892.30" stroke="#1a1a1a" stroke-width="1.1" />
<line x1="163.50" y1="888.60" x2="163.50" y2="892.30" stroke="#1a1a1a" stroke-width="1.1" />
<line x1="215.50" y1="888.60" x2="215.50" y2="892.30" stroke="#1a1a1a" stroke-width="1.1" />
<text class="b" transform="translate(49.43,901.69) scale(0.9045,1.0000)" font-size="11.41" fill="#000" ><tspan font-weight="bold" font-style="normal">P3-4</tspan></text>
<text class="b" transform="translate(105.71,901.80) scale(0.8442,1.0000)" font-size="11.74" fill="#000" ><tspan font-weight="bold" font-style="normal">P7</tspan></text>
<text class="b" transform="translate(155.60,901.80) scale(0.7821,1.0000)" font-size="11.74" fill="#000" ><tspan font-weight="bold" font-style="normal">P14</tspan></text>
<text class="b" transform="translate(206.03,901.80) scale(0.8874,1.0000)" font-size="11.57" fill="#000" ><tspan font-weight="bold" font-style="normal">P42</tspan></text>
<line x1="60.50" y1="794.50" x2="60.50" y2="813.75" stroke="#1a1a1a" stroke-width="1.0" />
<line x1="57.00" y1="794.50" x2="63.00" y2="794.50" stroke="#1a1a1a" stroke-width="1.0" />
<line x1="57.00" y1="813.50" x2="63.00" y2="813.50" stroke="#1a1a1a" stroke-width="1.0" />
<line x1="112.50" y1="785.50" x2="112.50" y2="807.00" stroke="#1a1a1a" stroke-width="1.0" />
<line x1="109.00" y1="785.50" x2="115.00" y2="785.50" stroke="#1a1a1a" stroke-width="1.0" />
<line x1="109.00" y1="807.50" x2="115.00" y2="807.50" stroke="#1a1a1a" stroke-width="1.0" />
<line x1="163.50" y1="838.50" x2="163.50" y2="862.00" stroke="#1a1a1a" stroke-width="1.0" />
<line x1="160.60" y1="838.50" x2="166.60" y2="838.50" stroke="#1a1a1a" stroke-width="1.0" />
<line x1="160.60" y1="862.50" x2="166.60" y2="862.50" stroke="#1a1a1a" stroke-width="1.0" />
<line x1="215.50" y1="782.00" x2="215.50" y2="793.00" stroke="#1a1a1a" stroke-width="1.0" />
<line x1="212.30" y1="782.50" x2="218.30" y2="782.50" stroke="#1a1a1a" stroke-width="1.0" />
<line x1="212.30" y1="793.50" x2="218.30" y2="793.50" stroke="#1a1a1a" stroke-width="1.0" />
<line x1="60.50" y1="838.75" x2="60.50" y2="871.25" stroke="#1a1a1a" stroke-width="1.0" />
<line x1="57.00" y1="838.50" x2="63.00" y2="838.50" stroke="#1a1a1a" stroke-width="1.0" />
<line x1="57.00" y1="871.50" x2="63.00" y2="871.50" stroke="#1a1a1a" stroke-width="1.0" />
<line x1="112.50" y1="829.50" x2="112.50" y2="848.00" stroke="#1a1a1a" stroke-width="1.0" />
<line x1="109.00" y1="829.50" x2="115.00" y2="829.50" stroke="#1a1a1a" stroke-width="1.0" />
<line x1="109.00" y1="848.50" x2="115.00" y2="848.50" stroke="#1a1a1a" stroke-width="1.0" />
<line x1="163.50" y1="858.00" x2="163.50" y2="870.90" stroke="#1a1a1a" stroke-width="1.0" />
<line x1="160.60" y1="858.50" x2="166.60" y2="858.50" stroke="#1a1a1a" stroke-width="1.0" />
<line x1="160.60" y1="870.50" x2="166.60" y2="870.50" stroke="#1a1a1a" stroke-width="1.0" />
<line x1="215.50" y1="830.50" x2="215.50" y2="857.00" stroke="#1a1a1a" stroke-width="1.0" />
<line x1="212.30" y1="830.50" x2="218.30" y2="830.50" stroke="#1a1a1a" stroke-width="1.0" />
<line x1="212.30" y1="857.50" x2="218.30" y2="857.50" stroke="#1a1a1a" stroke-width="1.0" />
<polyline points="60,804.4 112,796.25 163.6,850.7 215.3,786.5" fill="none" stroke="#000" stroke-width="1.4"/>
<polyline points="60,855 112,839.25 163.6,864.5 215.3,843.5" fill="none" stroke="#000" stroke-width="1.4" stroke-dasharray="4.2,3"/>
<circle cx="60" cy="804.4" r="2.7" fill="#fff" stroke="#000" stroke-width="1.1"/>
<circle cx="112" cy="796.25" r="2.7" fill="#fff" stroke="#000" stroke-width="1.1"/>
<circle cx="163.6" cy="850.7" r="2.7" fill="#fff" stroke="#000" stroke-width="1.1"/>
<circle cx="215.3" cy="786.5" r="2.7" fill="#fff" stroke="#000" stroke-width="1.1"/>
<circle cx="60" cy="855" r="2.9" fill="#000"/>
<circle cx="112" cy="839.25" r="2.9" fill="#000"/>
<circle cx="163.6" cy="864.5" r="2.9" fill="#000"/>
<circle cx="215.3" cy="843.5" r="2.9" fill="#000"/>
<text class="b" transform="translate(58.81,785.35) scale(0.8007,1.0000)" font-size="11.08" fill="#000" ><tspan font-weight="bold" font-style="normal">*</tspan></text>
<text class="b" transform="translate(63.98,785.35) scale(0.8007,1.0000)" font-size="11.08" fill="#000" ><tspan font-weight="bold" font-style="normal">*</tspan></text>
<text class="r" transform="translate(54.05,791.47) scale(1.0792,1.0000)" font-size="7.89" fill="#000" ><tspan font-weight="normal" font-style="normal">n=10</tspan></text>
<text class="b" transform="translate(107.55,776.56) scale(0.8232,1.0000)" font-size="11.76" fill="#000" ><tspan font-weight="bold" font-style="normal">*</tspan></text>
<text class="b" transform="translate(113.17,776.56) scale(0.8232,1.0000)" font-size="11.76" fill="#000" ><tspan font-weight="bold" font-style="normal">*</tspan></text>
<text class="r" transform="translate(105.07,782.73) scale(1.1426,1.0000)" font-size="7.18" fill="#000" ><tspan font-weight="normal" font-style="normal">n=6</tspan></text>
<text class="b" transform="translate(161.65,826.15) scale(0.9024,1.0000)" font-size="11.08" fill="#000" ><tspan font-weight="bold" font-style="normal">*</tspan></text>
<text class="r" transform="translate(156.53,833.01) scale(0.9698,1.0000)" font-size="9.01" fill="#000" ><tspan font-weight="normal" font-style="normal">n=6</tspan></text>
<text class="b" transform="translate(213.05,773.54) scale(0.6955,1.0000)" font-size="13.24" fill="#000" ><tspan font-weight="bold" font-style="normal">*</tspan></text>
<text class="r" transform="translate(209.08,777.30) scale(0.9857,1.0000)" font-size="8.12" fill="#000" ><tspan font-weight="normal" font-style="normal">n=4</tspan></text>
<text class="r" transform="translate(54.55,877.73) scale(1.1864,1.0000)" font-size="7.18" fill="#000" ><tspan font-weight="normal" font-style="normal">n=6</tspan></text>
<text class="r" transform="translate(105.01,856.47) scale(1.1439,1.0000)" font-size="7.89" fill="#000" ><tspan font-weight="normal" font-style="normal">n=9</tspan></text>
<text class="r" transform="translate(156.55,879.72) scale(1.0914,1.0000)" font-size="7.75" fill="#000" ><tspan font-weight="normal" font-style="normal">n=9</tspan></text>
<text class="r" transform="translate(207.52,867.63) scale(1.2280,1.0000)" font-size="7.32" fill="#000" ><tspan font-weight="normal" font-style="normal">n=6</tspan></text>
<line x1="125.00" y1="754.40" x2="142.70" y2="754.40" stroke="#1a1a1a" stroke-width="1.3" />
<circle cx="134" cy="754.4" r="2.7" fill="#fff" stroke="#000" stroke-width="1.1"/>
<line x1="125.00" y1="770.40" x2="129.60" y2="770.40" stroke="#1a1a1a" stroke-width="1.3" />
<line x1="138.40" y1="770.40" x2="142.70" y2="770.40" stroke="#1a1a1a" stroke-width="1.3" />
<circle cx="134" cy="770.4" r="2.9" fill="#000"/>
<text class="r" transform="translate(150.39,760.00) scale(1.0292,1.0000)" font-size="10.94" fill="#000" ><tspan font-weight="normal" font-style="italic">Tmprss6</tspan><tspan font-weight="normal" font-style="italic" font-size="8.21" dy="-3.94">+/-</tspan></text>
<text class="r" transform="translate(150.41,776.00) scale(1.0076,1.0000)" font-size="10.94" fill="#000" ><tspan font-weight="normal" font-style="italic">Tmprss6</tspan><tspan font-weight="normal" font-style="italic" font-size="8.21" dy="-3.94">-/-</tspan></text>
<text class="b" transform="translate(272.59,744.12) scale(0.9628,1.0000)" font-size="18.31" fill="#000" ><tspan font-weight="bold" font-style="normal">G</tspan></text>
<text class="r" transform="translate(286.23,841.30) rotate(-90) scale(1.0000,0.8720)" font-size="11.28" fill="#000" ><tspan font-weight="normal" font-style="normal">MCV (fL)</tspan></text>
<line x1="312.40" y1="751.75" x2="312.40" y2="887.90" stroke="#1a1a1a" stroke-width="1.3" />
<line x1="308.40" y1="887.90" x2="312.40" y2="887.90" stroke="#1a1a1a" stroke-width="1.2" />
<text class="b" transform="translate(301.17,891.30) scale(1.0783,1.0000)" font-size="9.86" fill="#000" ><tspan font-weight="bold" font-style="normal">0</tspan></text>
<line x1="309.90" y1="881.50" x2="312.40" y2="881.50" stroke="#1a1a1a" stroke-width="1.0" />
<line x1="309.90" y1="874.50" x2="312.40" y2="874.50" stroke="#1a1a1a" stroke-width="1.0" />
<line x1="309.90" y1="867.50" x2="312.40" y2="867.50" stroke="#1a1a1a" stroke-width="1.0" />
<line x1="309.90" y1="860.50" x2="312.40" y2="860.50" stroke="#1a1a1a" stroke-width="1.0" />
<line x1="308.40" y1="853.86" x2="312.40" y2="853.86" stroke="#1a1a1a" stroke-width="1.2" />
<text class="b" transform="translate(296.27,857.26) scale(0.9708,1.0000)" font-size="9.86" fill="#000" ><tspan font-weight="bold" font-style="normal">25</tspan></text>
<line x1="309.90" y1="847.50" x2="312.40" y2="847.50" stroke="#1a1a1a" stroke-width="1.0" />
<line x1="309.90" y1="840.50" x2="312.40" y2="840.50" stroke="#1a1a1a" stroke-width="1.0" />
<line x1="309.90" y1="833.50" x2="312.40" y2="833.50" stroke="#1a1a1a" stroke-width="1.0" />
<line x1="309.90" y1="826.50" x2="312.40" y2="826.50" stroke="#1a1a1a" stroke-width="1.0" />
<line x1="308.40" y1="819.83" x2="312.40" y2="819.83" stroke="#1a1a1a" stroke-width="1.2" />
<text class="b" transform="translate(296.31,823.23) scale(0.9802,1.0000)" font-size="9.86" fill="#000" ><tspan font-weight="bold" font-style="normal">50</tspan></text>
<line x1="309.90" y1="813.50" x2="312.40" y2="813.50" stroke="#1a1a1a" stroke-width="1.0" />
<line x1="309.90" y1="806.50" x2="312.40" y2="806.50" stroke="#1a1a1a" stroke-width="1.0" />
<line x1="309.90" y1="799.50" x2="312.40" y2="799.50" stroke="#1a1a1a" stroke-width="1.0" />
<line x1="309.90" y1="792.50" x2="312.40" y2="792.50" stroke="#1a1a1a" stroke-width="1.0" />
<line x1="308.40" y1="785.79" x2="312.40" y2="785.79" stroke="#1a1a1a" stroke-width="1.2" />
<text class="b" transform="translate(296.22,789.19) scale(0.9617,1.0000)" font-size="10.00" fill="#000" ><tspan font-weight="bold" font-style="normal">75</tspan></text>
<line x1="309.90" y1="778.50" x2="312.40" y2="778.50" stroke="#1a1a1a" stroke-width="1.0" />
<line x1="309.90" y1="772.50" x2="312.40" y2="772.50" stroke="#1a1a1a" stroke-width="1.0" />
<line x1="309.90" y1="765.50" x2="312.40" y2="765.50" stroke="#1a1a1a" stroke-width="1.0" />
<line x1="309.90" y1="758.50" x2="312.40" y2="758.50" stroke="#1a1a1a" stroke-width="1.0" />
<line x1="308.40" y1="751.75" x2="312.40" y2="751.75" stroke="#1a1a1a" stroke-width="1.2" />
<text class="b" transform="translate(290.76,755.15) scale(0.9916,1.0000)" font-size="9.86" fill="#000" ><tspan font-weight="bold" font-style="normal">100</tspan></text>
<line x1="312.40" y1="887.90" x2="517.00" y2="887.90" stroke="#1a1a1a" stroke-width="1.3" />
<line x1="338.50" y1="887.90" x2="338.50" y2="891.60" stroke="#1a1a1a" stroke-width="1.1" />
<line x1="390.50" y1="887.90" x2="390.50" y2="891.60" stroke="#1a1a1a" stroke-width="1.1" />
<line x1="441.50" y1="887.90" x2="441.50" y2="891.60" stroke="#1a1a1a" stroke-width="1.1" />
<line x1="493.50" y1="887.90" x2="493.50" y2="891.60" stroke="#1a1a1a" stroke-width="1.1" />
<text class="b" transform="translate(326.91,903.49) scale(0.9604,1.0000)" font-size="11.13" fill="#000" ><tspan font-weight="bold" font-style="normal">P3-4</tspan></text>
<text class="b" transform="translate(383.48,903.60) scale(0.8303,1.0000)" font-size="11.45" fill="#000" ><tspan font-weight="bold" font-style="normal">P7</tspan></text>
<text class="b" transform="translate(431.92,903.60) scale(0.9092,1.0000)" font-size="11.45" fill="#000" ><tspan font-weight="bold" font-style="normal">P14</tspan></text>
<text class="b" transform="translate(483.91,903.60) scale(0.9416,1.0000)" font-size="11.29" fill="#000" ><tspan font-weight="bold" font-style="normal">P42</tspan></text>
<line x1="390.50" y1="770.40" x2="390.50" y2="781.70" stroke="#1a1a1a" stroke-width="1.0" />
<line x1="387.30" y1="770.50" x2="392.70" y2="770.50" stroke="#1a1a1a" stroke-width="1.0" />
<line x1="387.30" y1="781.50" x2="392.70" y2="781.50" stroke="#1a1a1a" stroke-width="1.0" />
<line x1="338.50" y1="786.70" x2="338.50" y2="793.50" stroke="#1a1a1a" stroke-width="1.0" />
<line x1="335.40" y1="786.50" x2="340.80" y2="786.50" stroke="#1a1a1a" stroke-width="1.0" />
<line x1="335.40" y1="793.50" x2="340.80" y2="793.50" stroke="#1a1a1a" stroke-width="1.0" />
<line x1="390.50" y1="792.30" x2="390.50" y2="799.00" stroke="#1a1a1a" stroke-width="1.0" />
<line x1="387.30" y1="792.50" x2="392.70" y2="792.50" stroke="#1a1a1a" stroke-width="1.0" />
<line x1="387.30" y1="799.50" x2="392.70" y2="799.50" stroke="#1a1a1a" stroke-width="1.0" />
<polyline points="338.1,765.8 390,776 441.4,806.6 493.1,813.5" fill="none" stroke="#000" stroke-width="1.4"/>
<polyline points="338.1,790 390,795.8 441.4,814 493.1,833.7" fill="none" stroke="#000" stroke-width="1.4" stroke-dasharray="4.2,3"/>
<circle cx="338.1" cy="765.8" r="2.7" fill="#fff" stroke="#000" stroke-width="1.1"/>
<circle cx="390" cy="776" r="2.7" fill="#fff" stroke="#000" stroke-width="1.1"/>
<circle cx="441.4" cy="806.6" r="2.7" fill="#fff" stroke="#000" stroke-width="1.1"/>
<circle cx="493.1" cy="813.5" r="2.7" fill="#fff" stroke="#000" stroke-width="1.1"/>
<circle cx="338.1" cy="790" r="2.9" fill="#000"/>
<circle cx="390" cy="795.8" r="2.9" fill="#000"/>
<circle cx="441.4" cy="814" r="2.9" fill="#000"/>
<circle cx="493.1" cy="833.7" r="2.9" fill="#000"/>
<text class="b" transform="translate(333.15,756.61) scale(0.7955,1.0000)" font-size="11.89" fill="#000" ><tspan font-weight="bold" font-style="normal">*</tspan></text>
<text class="b" transform="translate(338.66,756.61) scale(0.7955,1.0000)" font-size="11.89" fill="#000" ><tspan font-weight="bold" font-style="normal">*</tspan></text>
<text class="b" transform="translate(344.16,756.61) scale(0.7955,1.0000)" font-size="11.89" fill="#000" ><tspan font-weight="bold" font-style="normal">*</tspan></text>
<text class="r" transform="translate(331.05,760.81) scale(0.9339,1.0000)" font-size="9.01" fill="#000" ><tspan font-weight="normal" font-style="normal">n=10</tspan></text>
<text class="r" transform="translate(332.67,804.02) scale(1.0750,1.0000)" font-size="7.61" fill="#000" ><tspan font-weight="normal" font-style="normal">n=6</tspan></text>
<text class="b" transform="translate(386.95,761.37) scale(0.8774,1.0000)" font-size="10.54" fill="#000" ><tspan font-weight="bold" font-style="normal">*</tspan></text>
<text class="b" transform="translate(392.34,761.37) scale(0.8774,1.0000)" font-size="10.54" fill="#000" ><tspan font-weight="bold" font-style="normal">*</tspan></text>
<text class="r" transform="translate(383.54,767.72) scale(1.0196,1.0000)" font-size="8.45" fill="#000" ><tspan font-weight="normal" font-style="normal">n=6</tspan></text>
<text class="r" transform="translate(383.55,809.42) scale(1.0272,1.0000)" font-size="8.17" fill="#000" ><tspan font-weight="normal" font-style="normal">n=9</tspan></text>
<text class="b" transform="translate(436.45,794.02) scale(0.8420,1.0000)" font-size="11.62" fill="#000" ><tspan font-weight="bold" font-style="normal">*</tspan></text>
<text class="b" transform="translate(442.13,794.02) scale(0.8420,1.0000)" font-size="11.62" fill="#000" ><tspan font-weight="bold" font-style="normal">*</tspan></text>
<text class="r" transform="translate(434.70,799.52) scale(1.0866,1.0000)" font-size="8.45" fill="#000" ><tspan font-weight="normal" font-style="normal">n=6</tspan></text>
<text class="r" transform="translate(436.03,825.03) scale(1.1888,1.0000)" font-size="7.32" fill="#000" ><tspan font-weight="normal" font-style="normal">n=9</tspan></text>
<text class="b" transform="translate(491.25,803.52) scale(0.8152,1.0000)" font-size="11.62" fill="#000" ><tspan font-weight="bold" font-style="normal">*</tspan></text>
<text class="r" transform="translate(485.96,808.20) scale(0.9488,1.0000)" font-size="8.70" fill="#000" ><tspan font-weight="normal" font-style="normal">n=4</tspan></text>
<text class="r" transform="translate(486.76,846.02) scale(0.9824,1.0000)" font-size="8.45" fill="#000" ><tspan font-weight="normal" font-style="normal">n=6</tspan></text>
<line x1="403.70" y1="734.70" x2="420.40" y2="734.70" stroke="#1a1a1a" stroke-width="1.3" />
<circle cx="411.8" cy="734.7" r="2.7" fill="#fff" stroke="#000" stroke-width="1.1"/>
<line x1="403.70" y1="751.90" x2="407.60" y2="751.90" stroke="#1a1a1a" stroke-width="1.3" />
<line x1="416.20" y1="751.90" x2="420.40" y2="751.90" stroke="#1a1a1a" stroke-width="1.3" />
<circle cx="411.8" cy="751.9" r="2.9" fill="#000"/>
<text class="r" transform="translate(427.59,740.28) scale(1.0130,1.0000)" font-size="11.03" fill="#000" ><tspan font-weight="normal" font-style="italic">Tmprss6</tspan><tspan font-weight="normal" font-style="italic" font-size="8.27" dy="-3.97">+/-</tspan></text>
<text class="r" transform="translate(427.61,756.48) scale(0.9953,1.0000)" font-size="11.03" fill="#000" ><tspan font-weight="normal" font-style="italic">Tmprss6</tspan><tspan font-weight="normal" font-style="italic" font-size="8.27" dy="-3.97">-/-</tspan></text>
</svg></body></html>
